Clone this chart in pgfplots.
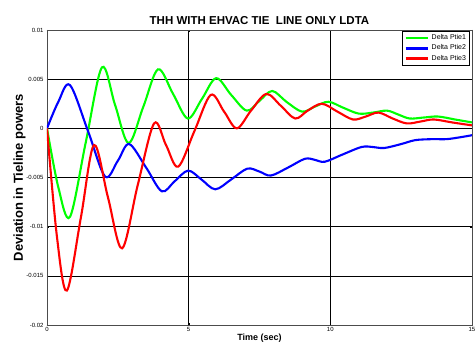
\documentclass[border=0pt]{standalone}
\usepackage{pgfplots}
\pgfplotsset{compat=1.18}
\usepackage{fontspec}
\setmainfont{Liberation Sans}
\definecolor{mygreen}{RGB}{0,255,0}
\definecolor{myblue}{RGB}{0,0,255}
\definecolor{myred}{RGB}{255,0,0}
\begin{document}
\begin{tikzpicture}
\useasboundingbox (-47pt,-20pt) rectangle (428pt,325pt);
\begin{axis}[
  at={(0,0)}, anchor=south west,
  scale only axis, width=425pt, height=295pt,
  xmin=0, xmax=15, ymin=-0.02, ymax=0.01,
  scaled y ticks=false, scaled x ticks=false,
  xtick={0,5,10,15}, xticklabels={0,5,10,15},
  ytick={-0.02,-0.015,-0.01,-0.005,0,0.005,0.01},
  yticklabels={-0.02,-0.015,-0.01,-0.005,0,0.005,0.01},
  tick label style={font=\fontsize{6}{7}\selectfont},
  xticklabel style={yshift=1pt},
  major tick length=2pt,
  tick style={black},
  grid=major,
  major grid style={black, line width=0.6pt},
  axis line style={black!70, line width=0.6pt},
  title={\bfseries THH WITH EHVAC TIE\ \ LINE ONLY LDTA},
  title style={font=\fontsize{11.5}{12}\selectfont, yshift=-4pt},
  xlabel={\bfseries Time (sec)},
  xlabel style={font=\fontsize{9}{10}\selectfont, yshift=5pt},
  ylabel={\bfseries Deviation in Tieline powers},
  ylabel style={font=\fontsize{13}{14}\selectfont, yshift=-6pt},
  legend style={at={(0.995,0.997)}, anchor=north east, draw=black, line width=0.8pt,
    font=\fontsize{7}{8}\selectfont, inner sep=1.5pt, row sep=-0.5pt,
    cells={anchor=west}},
  legend image code/.code={\draw[#1, line width=2.8pt] (0cm,0cm) -- (0.8cm,0cm);},
  every axis plot/.append style={line width=2.1pt, smooth, tension=0.55},
]
\addplot[mygreen] coordinates {
(0,0) (0.4,-0.006) (0.81,-0.009) (1.37,-0.0014) (1.94,0.0062) (2.4,0.0024) (2.88,-0.0015)
(3.4,0.0022) (3.92,0.006) (4.45,0.0035) (4.97,0.001) (5.47,0.003) (5.97,0.0051) (6.5,0.0034)
(7.05,0.0018) (7.5,0.0028) (7.95,0.0038) (8.45,0.0027) (9.0,0.0017) (9.45,0.0022) (9.93,0.0027)
(10.45,0.0021) (11.0,0.0015) (11.5,0.0016) (12.0,0.0018) (12.4,0.0014) (12.8,0.001) (13.3,0.0011)
(13.8,0.0012) (14.4,0.0009) (15,0.0006)};
\addlegendentry{Delta Ptie1}
\addplot[myblue] coordinates {
(0,0) (0.4,0.0027) (0.81,0.0044) (1.45,-0.0003) (2.05,-0.0049) (2.5,-0.0033) (2.9,-0.0016)
(3.5,-0.004) (4.05,-0.0064) (4.5,-0.0054) (4.98,-0.0043) (5.45,-0.0052) (5.94,-0.0062)
(6.5,-0.0052) (7.07,-0.0041) (7.5,-0.0044) (7.9,-0.0048) (8.5,-0.004) (9.1,-0.0031)
(9.45,-0.0032) (9.8,-0.0034) (10.4,-0.0027) (11.1,-0.0019) (11.5,-0.0019) (11.9,-0.002)
(12.5,-0.0016) (13.0,-0.0012) (13.6,-0.0011) (14.1,-0.0011) (14.6,-0.0009) (15,-0.0007)};
\addlegendentry{Delta Ptie2}
\addplot[myred] coordinates {
(0,0) (0.35,-0.011) (0.7,-0.0165) (1.2,-0.009) (1.66,-0.0017) (2.15,-0.007) (2.65,-0.0122)
(3.2,-0.0058) (3.78,0.0005) (4.2,-0.0017) (4.63,-0.0039) (5.2,-0.0003) (5.78,0.0034)
(6.25,0.0017) (6.7,0.0) (7.2,0.0018) (7.74,0.0035) (8.25,0.0023) (8.76,0.001) (9.2,0.0018)
(9.7,0.0025) (10.25,0.0017) (10.8,0.0009) (11.25,0.0012) (11.7,0.0016) (12.2,0.001)
(12.7,0.0005) (13.2,0.0007) (13.65,0.0009) (14.3,0.0006) (15,0.0003)};
\addlegendentry{Delta Ptie3}
\end{axis}
\end{tikzpicture}
\end{document}
